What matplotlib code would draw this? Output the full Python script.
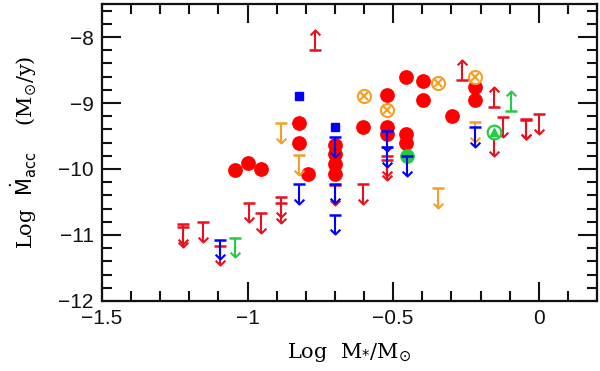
import matplotlib
matplotlib.use("Agg")
import matplotlib.pyplot as plt
from matplotlib.path import Path
from matplotlib.ticker import MultipleLocator, FuncFormatter

# ---- data ----
red_circ_x = [-1.043, -0.998, -0.955, -0.822, -0.822, -0.793, -0.70, -0.70, -0.70, -0.70,
              -0.602, -0.522, -0.522, -0.522, -0.455, -0.455, -0.455, -0.396, -0.396,
              -0.299, -0.219, -0.219]
red_circ_y = [-10.02, -9.91, -10.00, -9.31, -9.60, -10.07, -9.63, -9.77, -9.92, -10.07,
              -9.36, -8.88, -9.37, -9.47, -8.60, -9.47, -9.60, -8.66, -8.95,
              -9.19, -8.76, -8.95]

orange_otimes_x = [-0.599, -0.522, -0.345, -0.219]
orange_otimes_y = [-8.90, -9.10, -8.69, -8.61]

blue_sq_x = [-0.822, -0.70]
blue_sq_y = [-8.90, -9.36]

green_tri_x = [-0.154]
green_tri_y = [-9.44]

green_fill_x = [-0.453]
green_fill_y = [-9.81]

red_ul_x = [-1.221, -1.221, -1.153, -1.096, -0.995, -0.955, -0.885, -0.885, -0.70,
            -0.602, -0.522, -0.522, -0.154, -0.122, -0.045, -0.045, 0.001]
red_ul_y = [-10.84, -10.88, -10.80, -11.16, -10.51, -10.67, -10.42, -10.52, -10.24,
            -10.23, -9.81, -9.86, -9.50, -9.21, -9.24, -9.25, -9.17]

blue_ul_x = [-1.096, -0.822, -0.70, -0.70, -0.70, -0.522, -0.522, -0.453, -0.219]
blue_ul_y = [-11.07, -10.23, -9.52, -10.22, -10.69, -9.43, -9.67, -9.80, -9.37]

orange_ul_x = [-0.884, -0.822, -0.345, -0.219]
orange_ul_y = [-9.30, -9.79, -10.29, -9.29]

green_ul_x = [-1.043]
green_ul_y = [-11.04]

red_ll_x = [-0.767, -0.262, -0.154]
red_ll_y = [-8.19, -8.65, -9.06]

green_ll_x = [-0.097]
green_ll_y = [-9.12]

xticks = [-1.5, -1, -0.5, 0]
yticks = [-12, -11, -10, -9, -8]

# ---- style ----
RED = '#ff0000'
RED_L = '#e8101c'
ORANGE = '#f5a020'
BLUE = '#0000ff'
GREEN = '#22cc44'
ARROW_LEN = 0.3

down_head = Path([(-1, 1), (0, 0), (1, 1)], [Path.MOVETO, Path.LINETO, Path.LINETO])
up_head = Path([(-1, -1), (0, 0), (1, -1)], [Path.MOVETO, Path.LINETO, Path.LINETO])

fig = plt.figure(figsize=(6.0, 3.71), dpi=100)
ax = fig.add_axes([0.17, 0.1887, 0.825, 0.8005])


def limits(xs, ys, color, upper=True, z=3, lw=1.5):
    sgn = -1 if upper else 1
    ends = [y + sgn * ARROW_LEN for y in ys]
    ax.vlines(xs, ys, ends, colors=color, lw=lw, zorder=z)
    ax.plot(xs, ys, ls='none', marker='_', ms=9, mew=lw + 0.3, color=color, zorder=z)
    ax.plot(xs, ends, ls='none', marker=down_head if upper else up_head, ms=7,
            mew=lw, mfc='none', mec=color, zorder=z)


ax.plot(red_circ_x, red_circ_y, ls='none', marker='o', ms=9.6, color=RED, mec=RED, zorder=2)
ax.plot(orange_otimes_x, orange_otimes_y, ls='none', marker='o', ms=9.4, mfc='white',
        mec=ORANGE, mew=1.5, zorder=2.5)
ax.plot(orange_otimes_x, orange_otimes_y, ls='none', marker='x', ms=5.5, mec=ORANGE,
        mew=1.5, zorder=2.6)
ax.plot(blue_sq_x, blue_sq_y, ls='none', marker='s', ms=6, color=BLUE, zorder=2)
ax.plot(green_fill_x, green_fill_y, ls='none', marker='o', ms=9.6, color=GREEN,
        mec=GREEN, zorder=2.7)

limits(red_ul_x, red_ul_y, RED_L, True)
limits(blue_ul_x, blue_ul_y, BLUE, True, z=3.2)
limits(orange_ul_x, orange_ul_y, ORANGE, True, z=3.1)
limits(green_ul_x, green_ul_y, GREEN, True)
limits(red_ll_x, red_ll_y, RED_L, False)
limits(green_ll_x, green_ll_y, GREEN, False)

ax.plot(green_tri_x, green_tri_y, ls='none', marker='o', ms=9.8, mfc='white', mec=GREEN,
        mew=1.6, zorder=4)
ax.plot(green_tri_x, green_tri_y, ls='none', marker='^', ms=6, color=GREEN, zorder=4.1)

ax.set_xlim(-1.5, 0.2)
ax.set_ylim(-12, -7.5)

fmt = FuncFormatter(lambda v, p: ('%g' % v).replace('-', '\u2212'))
ax.set_xticks(xticks)
ax.set_yticks(yticks)
ax.xaxis.set_major_formatter(fmt)
ax.yaxis.set_major_formatter(fmt)
ax.xaxis.set_minor_locator(MultipleLocator(0.1))
ax.yaxis.set_minor_locator(MultipleLocator(0.2))
ax.tick_params(which='both', direction='in', top=True, right=True, width=1.5, colors='#111111')
ax.tick_params(which='major', length=14, labelsize=15, pad=6,
               labelfontfamily='Liberation Sans')
ax.tick_params(which='minor', length=7)
for s in ax.spines.values():
    s.set_linewidth(1.6)
    s.set_color('#111111')

plt.rcParams['mathtext.fontset'] = 'dejavuserif'
ax.set_xlabel(r'Log  M$_{*}$/M$_{\odot}$', family='DejaVu Serif', fontsize=15, labelpad=9)
ax.set_ylabel(r'Log  $\dot{\mathrm{M}}_{\mathsf{acc}}$    (M$_{\odot}$/y)', family='DejaVu Serif',
              fontsize=15, labelpad=14)

fig.savefig('out.png', dpi=100)
